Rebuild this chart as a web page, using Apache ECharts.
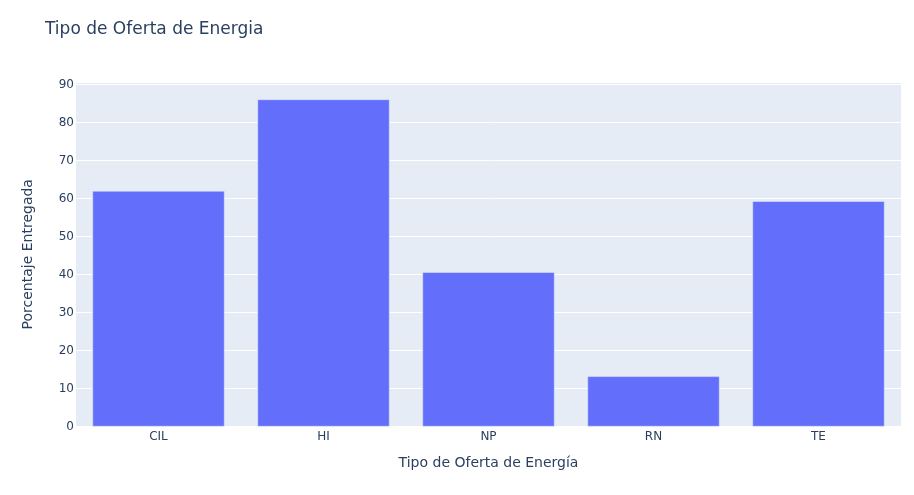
<!DOCTYPE html>
<html>
<head>
<meta charset="utf-8">
<script src="https://cdn.jsdelivr.net/npm/echarts@6/dist/echarts.min.js"></script>
<style>html,body{margin:0;padding:0;background:#fff}#c{width:914px;height:495px}</style>
</head>
<body>
<div id="c"></div>
<script>
const categories = ['CIL', 'HI', 'NP', 'RN', 'TE'];
const values = [62.0, 86.1, 40.6, 13.2, 59.3];
const yTicks = [0, 10, 20, 30, 40, 50, 60, 70, 80, 90];

const font = '"DejaVu Sans", Verdana, sans-serif';
const textColor = '#2a3f5f';
const chart = echarts.init(document.getElementById('c'), null, {renderer: 'canvas'});
chart.setOption({
  animation: false,
  backgroundColor: '#ffffff',
  title: {
    text: 'Tipo de Oferta de Energia',
    left: 40, top: 16,
    textStyle: {fontFamily: font, fontSize: 17, fontWeight: 'normal', color: textColor}
  },
  grid: {
    left: 76, right: 13, top: 82, bottom: 68.5,
    show: true, backgroundColor: '#E5ECF6', borderWidth: 0
  },
  xAxis: {
    type: 'category',
    data: categories,
    name: 'Tipo de Oferta de Energía',
    nameLocation: 'middle',
    nameGap: 30,
    nameTextStyle: {fontFamily: font, fontSize: 14, color: textColor},
    axisLine: {show: false},
    axisTick: {show: false},
    axisLabel: {fontFamily: font, fontSize: 12, color: textColor, margin: 4}
  },
  yAxis: {
    type: 'value',
    min: 0, max: 90.7, interval: 10,
    name: 'Porcentaje Entregada',
    nameLocation: 'middle',
    nameGap: 41,
    nameTextStyle: {fontFamily: font, fontSize: 14, color: textColor},
    axisLine: {show: false},
    axisTick: {show: false},
    axisLabel: {
      fontFamily: font, fontSize: 12, color: textColor, margin: 2,
      showMaxLabel: false,
      formatter: v => yTicks.includes(v) ? String(v) : ''
    },
    splitLine: {lineStyle: {color: '#ffffff', width: 1}}
  },
  series: [{
    type: 'bar',
    data: values,
    barCategoryGap: '20%',
    itemStyle: {color: '#636EFA', borderColor: 'rgb(229,236,246)', borderWidth: 0.5}
  }]
});
</script>
</body>
</html>
